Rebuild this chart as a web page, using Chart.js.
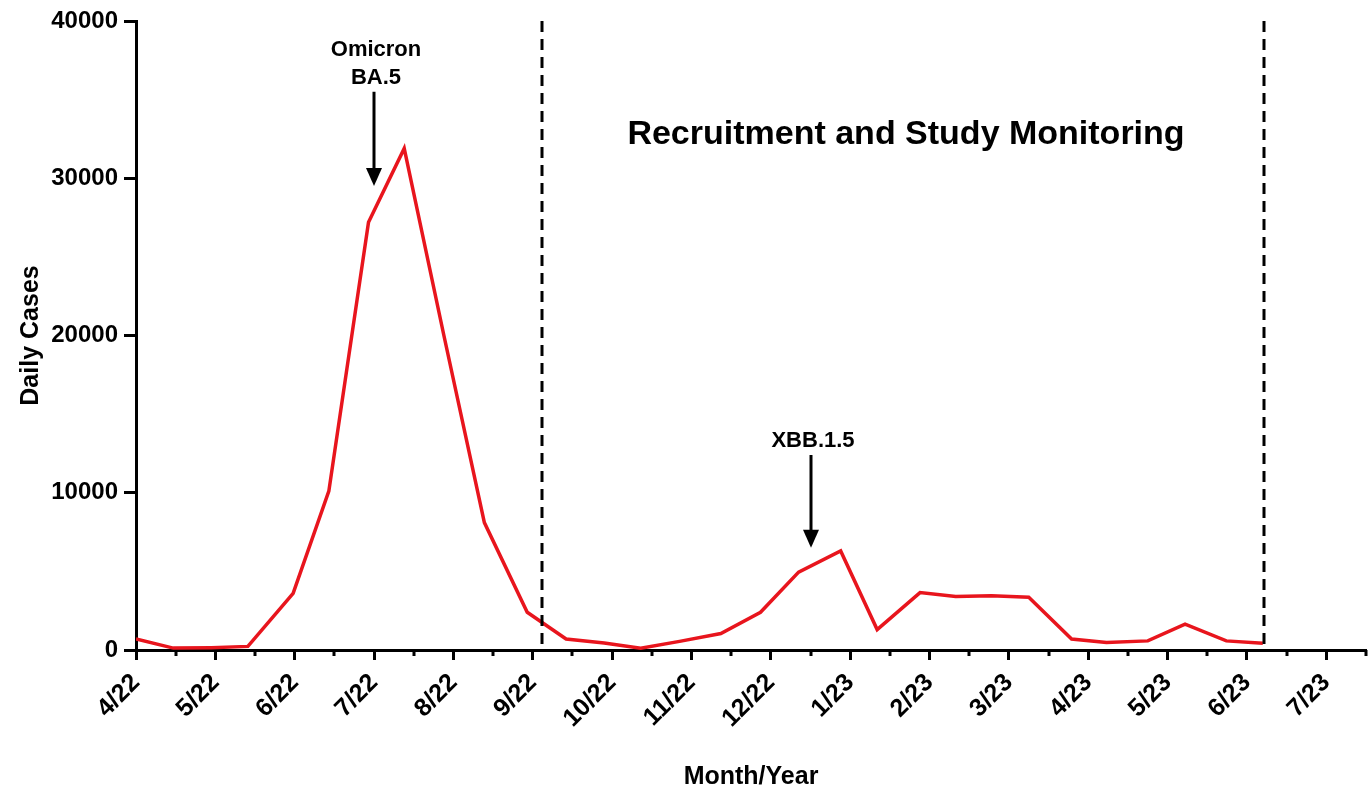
<!DOCTYPE html>
<html>
<head>
<meta charset="utf-8">
<title>Daily Cases</title>
<script src="https://cdn.jsdelivr.net/npm/chart.js"></script>
<style>
  html, body { margin: 0; padding: 0; background: #fff; }
  #chart { display: block; }
</style>
</head>
<body>
<canvas id="chart" width="1369" height="794"></canvas>
<script>
// month tick labels, one per month starting 4/22
const monthLabels = ["4/22", "5/22", "6/22", "7/22", "8/22", "9/22", "10/22", "11/22",
  "12/22", "1/23", "2/23", "3/23", "4/23", "5/23", "6/23", "7/23"];

// sample dates as months since 4/22, and daily cases on each
const sampleMonths = [0, 0.47, 0.95, 1.41, 1.98, 2.43, 2.93, 3.38, 3.88, 4.39,
  4.93, 5.42, 5.9, 6.36, 6.85, 7.37, 7.87, 8.35, 8.88, 9.34,
  9.88, 10.33, 10.78, 11.25, 11.79, 12.23, 12.75, 13.22, 13.74, 14.2];
const dailyCases = [700, 120, 150, 230, 3600, 10100, 27200, 31900, 20000, 8100,
  2400, 700, 450, 120, 550, 1050, 2400, 4950, 6300, 1300,
  3650, 3400, 3450, 3350, 700, 480, 580, 1650, 580, 430];

const yTicks = [0, 10000, 20000, 30000, 40000];

// recruitment window (months since 4/22)
const studyWindow = [5.11, 14.21];

// variant waves: label lines, month, arrow top and tip in cases
const variantLabels = [["Omicron", "BA.5"], ["XBB.1.5"]];
const variantMonths = [3.0, 8.5];
const arrowTops = [35500, 12400];
const arrowTips = [29500, 6500];

const FONT = "'Liberation Sans', Arial, Helvetica, sans-serif";

const points = sampleMonths.map((m, i) => ({ x: m, y: dailyCases[i] }));

const overlay = {
  id: "overlay",
  afterDraw(chart) {
    const ctx = chart.ctx;
    const xs = chart.scales.x;
    const ys = chart.scales.y;
    const area = chart.chartArea;

    ctx.save();

    // half-month minor ticks
    ctx.strokeStyle = "#000";
    ctx.lineWidth = 3;
    ctx.beginPath();
    for (let i = 0; i < monthLabels.length; i++) {
      const px = Math.round(xs.getPixelForValue(i + 0.5));
      ctx.moveTo(px, area.bottom);
      ctx.lineTo(px, area.bottom + 6);
    }
    ctx.stroke();

    // dashed lines around the study window
    ctx.setLineDash([11, 7]);
    ctx.lineWidth = 3;
    studyWindow.forEach((m) => {
      const px = Math.round(xs.getPixelForValue(m));
      ctx.beginPath();
      ctx.moveTo(px, area.top);
      ctx.lineTo(px, area.bottom);
      ctx.stroke();
    });
    ctx.setLineDash([]);

    // window title
    ctx.fillStyle = "#000";
    ctx.textAlign = "center";
    ctx.textBaseline = "alphabetic";
    ctx.font = "bold 34px " + FONT;
    ctx.fillText("Recruitment and Study Monitoring", 906, 144);

    // variant arrows and labels
    variantLabels.forEach((lines, i) => {
      const px = Math.round(xs.getPixelForValue(variantMonths[i]));
      const top = ys.getPixelForValue(arrowTops[i]);
      const tip = ys.getPixelForValue(arrowTips[i]);

      ctx.lineWidth = 3;
      ctx.beginPath();
      ctx.moveTo(px, top);
      ctx.lineTo(px, tip - 14);
      ctx.stroke();
      ctx.beginPath();
      ctx.moveTo(px - 8, tip - 18);
      ctx.lineTo(px + 8, tip - 18);
      ctx.lineTo(px, tip);
      ctx.closePath();
      ctx.fill();

      ctx.font = "bold 22px " + FONT;
      lines.forEach((txt, j) => {
        const base = top - 8 - (lines.length - 1 - j) * 28;
        ctx.fillText(txt, px + 2, base);
      });
    });

    ctx.restore();
  }
};

new Chart(document.getElementById("chart"), {
  type: "line",
  data: {
    datasets: [
      {
        data: points,
        borderColor: "#e8151d",
        borderWidth: 3.5,
        pointRadius: 0,
        tension: 0,
        fill: false
      }
    ]
  },
  options: {
    responsive: false,
    animation: false,
    layout: {
      padding: { top: 21, right: 3, bottom: 0, left: 0 }
    },
    plugins: {
      legend: { display: false },
      tooltip: { enabled: false }
    },
    scales: {
      x: {
        type: "linear",
        min: 0,
        max: 15.5,
        afterBuildTicks: (scale) => {
          scale.ticks = monthLabels.map((_, i) => ({ value: i }));
        },
        afterFit: (scale) => {
          scale.height = 144;
        },
        ticks: {
          minRotation: 45,
          maxRotation: 45,
          padding: 8,
          color: "#000",
          font: { family: FONT, size: 25, weight: "bold" },
          callback: (value) => monthLabels[value]
        },
        grid: {
          drawOnChartArea: false,
          drawTicks: true,
          tickLength: 10,
          tickWidth: 3,
          tickColor: "#000"
        },
        border: { display: true, color: "#000", width: 3 },
        title: {
          display: true,
          text: "Month/Year",
          color: "#000",
          font: { family: FONT, size: 25, weight: "bold" },
          padding: { top: 0, bottom: 2 }
        }
      },
      y: {
        min: 0,
        max: 40000,
        afterBuildTicks: (scale) => {
          scale.ticks = yTicks.map((v) => ({ value: v }));
        },
        afterFit: (scale) => {
          scale.width = 136;
        },
        ticks: {
          padding: 6,
          color: "#000",
          font: { family: FONT, size: 24, weight: "bold" },
          callback: (value) => String(value)
        },
        grid: {
          drawOnChartArea: false,
          drawTicks: true,
          tickLength: 12,
          tickWidth: 3,
          tickColor: "#000"
        },
        border: { display: true, color: "#000", width: 3 },
        title: {
          display: true,
          text: "Daily Cases",
          color: "#000",
          font: { family: FONT, size: 25, weight: "bold" },
          padding: { top: 16, bottom: 0 }
        }
      }
    }
  },
  plugins: [overlay]
});
</script>
</body>
</html>
